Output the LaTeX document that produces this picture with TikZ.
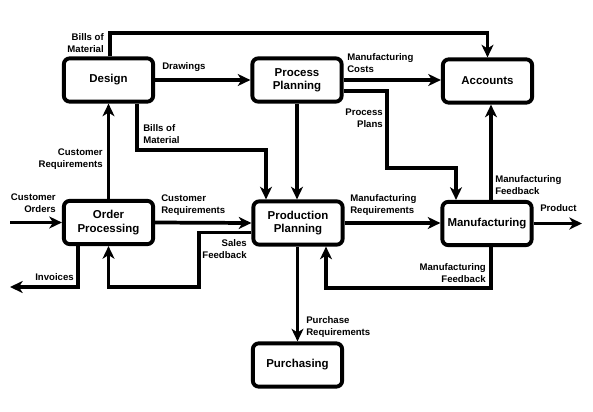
\documentclass[tikz,border=0pt]{standalone}
\usepackage{fontspec}
\setmainfont{Liberation Sans}
\usetikzlibrary{arrows.meta,calc}
\tikzset{
  box/.style={draw, line width=2.9pt, rounded corners=4.5pt, minimum width=67pt, minimum height=32.5pt, align=center, font=\fontsize{8.6}{10}\selectfont\bfseries, inner sep=1pt},
  flow/.style={line width=2.8pt, -{Stealth[length=9.5pt,width=9pt,inset=2.8pt]}},
  lbl/.style={font=\fontsize{7.2}{9}\selectfont\bfseries, inner sep=0pt}
}
\begin{document}
\begin{tikzpicture}[x=0.75pt,y=-0.75pt]
\useasboundingbox (0,0) rectangle (593,411);
% boxes
\node[box] (design) at (108.5,80) {Design};
\node[box] (process) at (297,80) {Process\\Planning};
\node[box] (accounts) at (487.5,81) {Accounts};
\node[box] (order) at (108.5,222.5) {Order\\Processing};
\node[box] (production) at (298,223) {Production\\Planning};
\node[box] (manufacturing) at (487,223.5) {Manufacturing};
\node[box] (purchasing) at (297.5,365) {Purchasing};
% free ends and bends
\coordinate (topbend) at (110,33);
\coordinate (ppbend) at (387,168);
\coordinate (bmbend) at (137,150);
\coordinate (cin) at (10,222.5);
\coordinate (sfbend) at (199,287);
\coordinate (invend) at (10,287);
\coordinate (mfbend) at (491,288);
\coordinate (prodend) at (582,223.5);
% connectors
\draw[flow] ($(design.north)+(1.5,0)$) -- (topbend) -| (accounts.north);
\draw[flow] (design.east) -- (process.west);
\draw[flow] (process.east) -- (process.east -| accounts.west);
\draw[flow] ($(process.east)+(0,11)$) -| (ppbend) -| ($(manufacturing.north)+(-31,0)$);
\draw[flow] (process.south) -- (process.south |- production.north);
\draw[flow] ($(design.south)+(28.5,0)$) |- (bmbend) -| ($(production.north)+(-32,0)$);
\draw[flow] (order.north) -- (design.south);
\draw[flow] (cin) -- (order.west);
\draw[flow] (order.east) -- (production.west);
\draw[flow] ($(production.west)+(0,9.5)$) -| (sfbend) -| (order.south);
\draw[flow] ($(order.south)+(-30.5,0)$) |- (invend);
\draw[flow] (production.east) -- (production.east -| manufacturing.west);
\draw[flow] ($(manufacturing.south)+(4,0)$) |- (mfbend) -| ($(production.south)+(28,0)$);
\draw[flow] ($(manufacturing.north)+(4,0)$) -- ($(accounts.south)+(3.5,0)$);
\draw[flow] (manufacturing.east) -- (prodend);
\draw[flow] (production.south -| purchasing.north) -- (purchasing.north);
% labels
\node[lbl, anchor=east, align=right] (l1) at (104,43) {Bills of\\Material};
\node[lbl, anchor=west] (l2) at (162,67) {Drawings};
\node[lbl, anchor=west, align=left] (l3) at (347,63.5) {Manufacturing\\Costs};
\node[lbl, anchor=east, align=right] (l4) at (383,118) {Process\\Plans};
\node[lbl, anchor=west, align=left] (l5) at (143,134.5) {Bills of\\Material};
\node[lbl, anchor=east, align=right] (l6) at (103,159) {Customer\\Requirements};
\node[lbl, anchor=east, align=right] (l7) at (56,203) {Customer\\Orders};
\node[lbl, anchor=west, align=left] (l8) at (161,205) {Customer\\Requirements};
\node[lbl, anchor=east, align=right] (l9) at (247,249) {Sales\\Feedback};
\node[lbl, anchor=east] (l10) at (74,277) {Invoices};
\node[lbl, anchor=west, align=left] (l11) at (350,205) {Manufacturing\\Requirements};
\node[lbl, anchor=east, align=right] (l12) at (486,273) {Manufacturing\\Feedback};
\node[lbl, anchor=west, align=left] (l13) at (495,185) {Manufacturing\\Feedback};
\node[lbl, anchor=west] (l14) at (540,208) {Product};
\node[lbl, anchor=west, align=left] (l15) at (306,327) {Purchase\\Requirements};
\end{tikzpicture}
\end{document}
